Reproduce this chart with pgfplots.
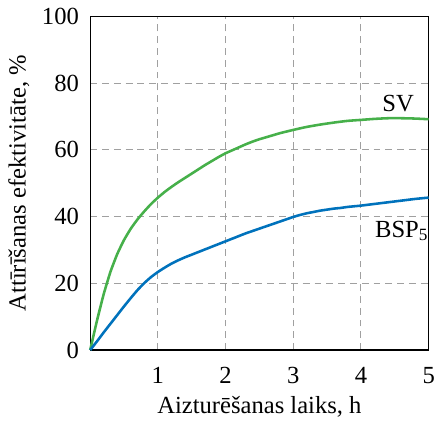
\documentclass[border=0pt]{standalone}
\usepackage{pgfplots}
\pgfplotsset{compat=1.18}
\usepackage{fontspec}
\setmainfont{Liberation Serif}
\definecolor{svgreen}{RGB}{70,176,74}
\definecolor{bspblue}{RGB}{0,114,188}
\definecolor{gridgray}{RGB}{160,160,160}
\begin{document}
\fontsize{25bp}{29bp}\selectfont
\begin{tikzpicture}[x=1bp,y=1bp]
\begin{axis}[
    scale only axis,
    width=344bp, height=339bp,
    xmin=0, xmax=5, ymin=0, ymax=100,
    xtick={1,2,3,4,5}, ytick={0,20,40,60,80,100},
    major tick length=0pt,
    grid=major,
    major grid style={gridgray, line width=1bp, dash pattern=on 7bp off 5bp},
    axis line style={line width=1.2bp, black},
    /pgf/number format/assume math mode=true,
    ticklabel style={font=\fontsize{25bp}{29bp}\selectfont},
    xticklabel style={yshift=-9bp},
    yticklabel style={xshift=-3bp},
    label style={font=\fontsize{25bp}{29bp}\selectfont},
    xlabel={Aizturēšanas laiks, h},
    ylabel={Attīrīšanas efektivitāte, \%},
    xlabel style={yshift=4bp},
    ylabel style={yshift=-4bp},
    clip=false,
]
% SV
\addplot[svgreen, line width=2.6bp, smooth, tension=0.3] coordinates {
(0,0) (0.1,8.8) (0.2,16.8) (0.3,23.5) (0.4,28.8) (0.5,33.0) (0.6,36.4)
(0.7,39.2) (0.8,41.6) (0.9,43.8) (1.0,45.7) (1.1,47.4) (1.2,48.9)
(1.3,50.3) (1.4,51.6) (1.5,52.9) (1.6,54.2) (1.7,55.5) (1.8,56.7)
(1.9,57.9) (2.0,59.0) (2.1,59.9) (2.2,60.8) (2.3,61.7) (2.4,62.5)
(2.5,63.2) (2.6,63.8) (2.7,64.4) (2.8,65.0) (2.9,65.5) (3.0,66.0)
(3.2,66.9) (3.4,67.6) (3.6,68.2) (3.8,68.7) (4.0,69.0) (4.2,69.3)
(4.4,69.5) (4.6,69.5) (4.8,69.4) (5.0,69.2)};
% BSP5
\addplot[bspblue, line width=2.6bp, smooth, tension=0.3] coordinates {
(0,0) (0.1,2.6) (0.2,5.3) (0.3,7.9) (0.4,10.5) (0.5,13.1) (0.6,15.6)
(0.7,18.0) (0.8,20.1) (0.9,21.9) (1.0,23.4) (1.1,24.7) (1.2,25.9)
(1.3,26.9) (1.4,27.8) (1.5,28.6) (1.6,29.4) (1.7,30.2) (1.8,31.0)
(1.9,31.8) (2.0,32.6) (2.1,33.4) (2.2,34.2) (2.3,35.0) (2.4,35.7)
(2.5,36.4) (2.6,37.1) (2.7,37.8) (2.8,38.5) (2.9,39.2) (3.0,39.9)
(3.1,40.5) (3.2,41.0) (3.3,41.4) (3.4,41.8) (3.5,42.1) (3.6,42.4)
(3.7,42.6) (3.8,42.9) (3.9,43.1) (4.0,43.3) (4.2,43.8) (4.4,44.3)
(4.6,44.8) (4.8,45.3) (5.0,45.7)};
\node at (axis cs:4.55,73.8) {SV};
\node at (axis cs:4.6,35.7) {BSP\textsubscript{5}};
\end{axis}
\end{tikzpicture}
\end{document}
